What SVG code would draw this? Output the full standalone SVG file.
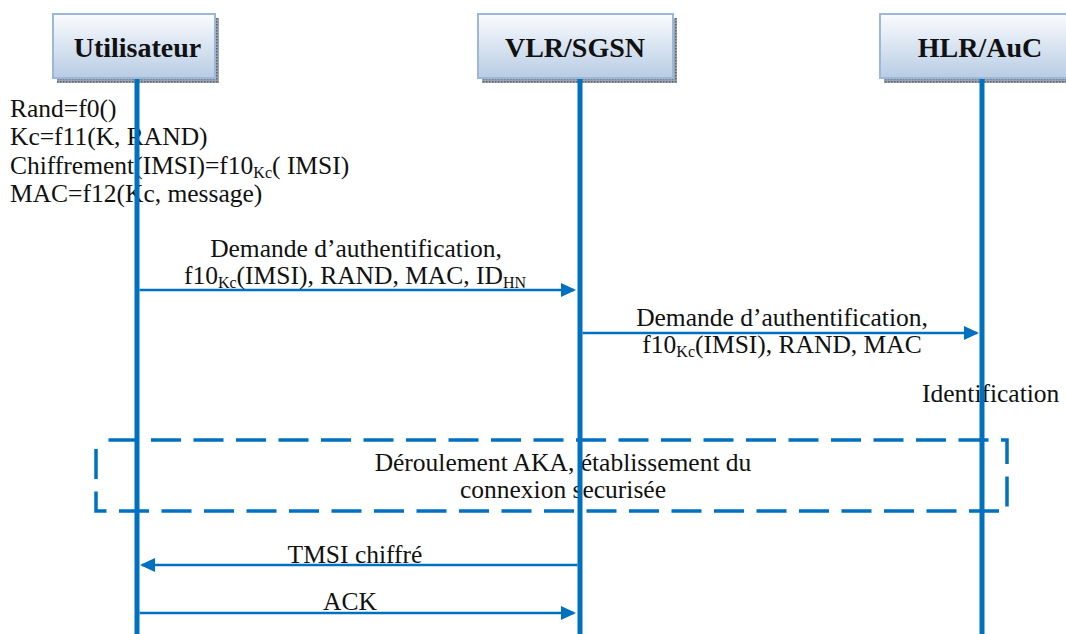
<svg xmlns="http://www.w3.org/2000/svg" width="1066" height="634" viewBox="0 0 1066 634">
<style>
.t{font-family:"Liberation Serif","Times New Roman",serif;font-size:25.5px;fill:#111}
.h{font-family:"Liberation Serif","Times New Roman",serif;font-size:28px;font-weight:bold;fill:#111;text-anchor:middle}
.c{text-anchor:middle}
.sub{font-size:16px}
.life{stroke:#0070C0;stroke-width:5;fill:none}
.msg{stroke:#0070C0;stroke-width:2.5;fill:none}
.box{fill:url(#g);stroke:#9BB7DA;stroke-width:2}
.shadow{fill:url(#dots)}
</style>
<defs>
<linearGradient id="g" x1="0" y1="0" x2="0" y2="1">
<stop offset="0" stop-color="#FAFCFE"/>
<stop offset="1" stop-color="#B8CCE4"/>
</linearGradient>
<pattern id="dots" width="3" height="3" patternUnits="userSpaceOnUse">
<rect width="3" height="3" fill="#9aa3ae"/>
<rect width="1.5" height="1.5" fill="#5b636e"/>
</pattern>
<marker id="ah" markerUnits="userSpaceOnUse" markerWidth="16" markerHeight="14" refX="13" refY="7" orient="auto">
<path d="M0,0 L15,7 L0,14 z" fill="#0070C0"/>
</marker>
</defs>
<rect width="1066" height="634" fill="#fff"/>

<g id="notes">
<text class="t" x="10" y="116.5">Rand=f0()</text>
<text class="t" x="10" y="145">Kc=f11(K, RAND)</text>
<text class="t" x="10" y="173.5">Chiffrement(IMSI)=f10<tspan class="sub" dy="4">Kc</tspan><tspan dy="-4">( IMSI)</tspan></text>
<text class="t" x="10" y="202">MAC=f12(Kc, message)</text>
<text class="t" x="922" y="402">Identification</text>
</g>

<g id="aka">
<rect x="96" y="440" width="911" height="71" fill="none" stroke="#0070C0" stroke-width="3.5" stroke-dasharray="30 12.5" stroke-dashoffset="30"/>
<text class="t c" x="563" y="471">Déroulement AKA, établissement du</text>
<text class="t c" x="563" y="498">connexion securisée</text>
</g>

<g id="utilisateur">
<rect class="shadow" x="57" y="18" width="162" height="65"/>
<rect class="box" x="53" y="14" width="162" height="64"/>
<text class="h" x="137.5" y="57">Utilisateur</text>
<line class="life" x1="137" y1="79" x2="137" y2="634"/>
</g>

<g id="vlr">
<rect class="shadow" x="482" y="18" width="195" height="65"/>
<rect class="box" x="478" y="14" width="195" height="64"/>
<text class="h" x="575" y="57">VLR/SGSN</text>
<line class="life" x1="580" y1="79" x2="580" y2="634"/>
</g>

<g id="hlr">
<rect class="shadow" x="884" y="18" width="195" height="65"/>
<rect class="box" x="880" y="14" width="195" height="64"/>
<text class="h" x="980" y="57">HLR/AuC</text>
<line class="life" x1="982" y1="79" x2="982" y2="634"/>
</g>

<g id="connectors">
<line class="msg" x1="139.5" y1="290" x2="574" y2="290" marker-end="url(#ah)"/>
<line class="msg" x1="582.5" y1="333" x2="977" y2="333" marker-end="url(#ah)"/>
<line class="msg" x1="577.5" y1="565" x2="142" y2="565" marker-end="url(#ah)"/>
<line class="msg" x1="139.5" y1="613" x2="574" y2="613" marker-end="url(#ah)"/>
</g>

<g id="labels">
<text class="t c" x="356" y="256.5">Demande d’authentification,</text>
<text class="t c" x="355" y="284">f10<tspan class="sub" dy="4">Kc</tspan><tspan dy="-4">(IMSI), RAND, MAC, ID</tspan><tspan class="sub" dy="4">HN</tspan></text>
<text class="t c" x="782" y="326">Demande d’authentification,</text>
<text class="t c" x="782" y="353">f10<tspan class="sub" dy="4">Kc</tspan><tspan dy="-4">(IMSI), RAND, MAC</tspan></text>
<text class="t c" x="355" y="563">TMSI chiffré</text>
<text class="t c" x="350" y="610">ACK</text>
</g>
</svg>
